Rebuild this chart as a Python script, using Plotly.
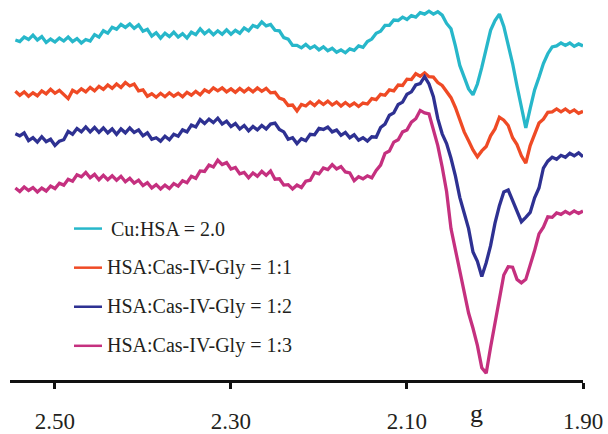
import plotly.graph_objects as go

# Field sweep expressed as g-factor (high g on the left)
G_VALUES = [
    2.545, 2.540, 2.535, 2.530, 2.525, 2.520, 2.515, 2.510, 2.505, 2.500,
    2.495, 2.490, 2.485, 2.480, 2.475, 2.470, 2.465, 2.460, 2.455, 2.450,
    2.445, 2.440, 2.435, 2.430, 2.425, 2.420, 2.415, 2.410, 2.405, 2.400,
    2.395, 2.390, 2.385, 2.380, 2.375, 2.370, 2.365, 2.360, 2.355, 2.350,
    2.345, 2.340, 2.335, 2.330, 2.325, 2.320, 2.315, 2.310, 2.305, 2.300,
    2.295, 2.290, 2.285, 2.280, 2.275, 2.270, 2.265, 2.260, 2.255, 2.250,
    2.245, 2.240, 2.235, 2.230, 2.225, 2.220, 2.215, 2.210, 2.205, 2.200,
    2.195, 2.190, 2.185, 2.180, 2.175, 2.170, 2.165, 2.160, 2.155, 2.150,
    2.145, 2.140, 2.135, 2.130, 2.125, 2.120, 2.115, 2.110, 2.105, 2.100,
    2.095, 2.090, 2.085, 2.080, 2.075, 2.070, 2.065, 2.060, 2.055, 2.050,
    2.045, 2.040, 2.035, 2.030, 2.025, 2.020, 2.015, 2.010, 2.005, 2.000,
    1.995, 1.990, 1.985, 1.980, 1.975, 1.970, 1.965, 1.960, 1.955, 1.950,
    1.945, 1.940, 1.935, 1.930, 1.925, 1.920, 1.915, 1.910, 1.905, 1.900,
]

# EPR signal (a.u.) of each sample
CU_HSA = [
    1, -0.5, 4, 1.5, 6, 1, 4.5, -1.5, 2, -1,
    3, 0, 4, -0.5, 2.5, -2, 1.5, 0, 6.5, 4,
    10.5, 8, 14, 12, 17, 14, 17.5, 13, 16.5, 10,
    12, 5, 8.5, 3, 8, 4.5, 9, 4, 7.5, 3,
    9, 6.5, 12.5, 7.5, 11, 6.5, 10.5, 7, 11.5, 7,
    11, 8, 13.5, 10.5, 16, 14, 19.5, 15.5, 17, 11,
    10.5, 3.5, 2, -4.5, -4.5, -7, -3.5, -7.5, -5, -9,
    -6, -10, -7.5, -11.5, -9, -12, -8, -9.5, -5, -6.5,
    -0.5, 2, 8, 10, 16, 16, 21.5, 21, 24.5, 22,
    26, 24.5, 29, 27.5, 30.5, 27.5, 30, 26.5, 18, 12.5,
    -5, -25, -37, -49, -55, -44, -27, -9, 11, 21,
    27.5, 15, -4, -23, -46, -69, -89, -69, -50, -37,
    -23, -13, -6, -5, -2, -4.5, -2, -5.5, -3, -5,
]

RATIO_1_1 = [
    1.5, -2.5, 1, -3.5, 0, -3, 2, -1, 3.5, -0.5,
    2.5, -1.5, -6, 2.5, 0, 4, 1, 5.5, 2, 6.5,
    3.5, 8, 4.5, 9, 5.5, 10.5, 7, 9, 2, 3,
    -3.5, -1, -4.5, -0.5, -4, 0, -3.5, -0.5, -4, 0.5,
    -2.5, 1.5, -2, 3, 0.5, 5, 2, 5, 1, 4,
    0.5, 4.5, 1, 4.5, 1, 5, 1.5, 4.5, 0, 0.5,
    -5.5, -7, -13, -12.5, -18.5, -12, -13.5, -9.5, -13, -8.5,
    -12, -8.5, -12.5, -9.5, -13.5, -10, -13.5, -10.5, -14, -10.5,
    -11.5, -6, -7, -1.5, -2.5, 3, 2, 8, 7.5, 14,
    13.5, 19.5, 17, 20.5, 16.5, 16, 10.5, 7.5, 1.5, -5,
    -15, -28, -40, -49, -58.5, -65.5, -59.5, -55, -44, -37,
    -25, -28, -33.5, -46, -53, -64.5, -72, -54, -43, -31,
    -27, -20, -19.5, -16.5, -19.5, -16.5, -20, -17.5, -21, -19,
]

RATIO_1_2 = [
    3, 1, 4, -4, -1, -5.5, 0, -5, -2.5, -9,
    -4.5, -3, 5.5, 2.5, 8.5, 5, 10, 5, 9.5, 4.5,
    9, 4, 8, 2.5, 8, 4, 9, 4.5, 7, 1,
    4, -2.5, -1, -4.5, 0.5, -3, 2.5, 0.5, 7, 5,
    12, 10, 17.5, 13.5, 18, 14.5, 19, 13, 16, 10.5,
    13.5, 8, 11.5, 6, 10.5, 7, 11.5, 8, 13, 14,
    7.5, 5, -2.5, -1, -7, -2, -4, 2.5, 2, 8.5,
    7.5, 10, 5, 7, 1.5, 4.5, -1, 2, -3.5, -1,
    -4.5, 0, -0.5, 9.5, 13, 22, 24.5, 33, 35.5, 43.5,
    46, 53, 54.5, 61.5, 54, 41, 18.5, 3, -7, -22,
    -40, -62, -78, -94, -118, -127.5, -143, -129, -111.5, -88.5,
    -70.5, -56.5, -54.5, -66, -76, -87, -82.5, -77.5, -62.5, -52.5,
    -32, -25, -21, -23, -19, -21, -17, -19.5, -16.5, -20.5,
]

RATIO_1_3 = [
    -0.5, -4, 0.5, -3, 0, -4.5, -0.5, -3.5, 1.5, -1,
    4.5, 2.5, 8.5, 6.5, 13, 11, 15.5, 10, 13.5, 8,
    12.5, 8, 12, 7.5, 11.5, 6, 9.5, 4.5, 7.5, 2,
    5, -0.5, 3, -1.5, 2.5, -1, 4, 1.5, 7, 5,
    11.5, 9.5, 17, 16.5, 23, 21, 28, 23.5, 25.5, 19,
    20.5, 14, 15.5, 10, 15, 11.5, 16.5, 12.5, 17, 8.5,
    9, 2.5, 3, -1.5, 2.5, 0, 6.5, 7.5, 15.5, 14,
    20, 18.5, 23.5, 19, 21.5, 16, 15, 7, 11, 9,
    12, 10, 17.5, 23, 35, 37.5, 46.5, 49, 57, 59,
    67, 70.5, 79, 76.5, 75.5, 59.5, 43, 21, -4, -42,
    -63, -85, -105, -128.5, -144, -161.5, -184.5, -190, -163.5, -137.5,
    -114.5, -89.5, -81, -81.5, -94, -97.5, -94, -80, -64.5, -47.5,
    -40.5, -30, -30.5, -26, -27.5, -24.5, -27, -24, -26.5, -24,
]

SERIES_NAMES = [
    "Cu:HSA = 2.0",
    "HSA:Cas-IV-Gly = 1:1",
    "HSA:Cas-IV-Gly = 1:2",
    "HSA:Cas-IV-Gly = 1:3",
]
TICK_VALUES = [2.50, 2.30, 2.10, 1.90]
TICK_LABELS = ["2.50", "2.30", "2.10", "1.90"]

# presentation settings
COLORS = ["#27b7ca", "#ef4a25", "#2e3192", "#c5307f"]
STACK_OFFSETS = [347, 294, 249, 197]   # vertical stacking of the spectra
TEXT_COLOR = "#231f20"
SERIF = "Liberation Serif, Times New Roman, serif"

fig = go.Figure()
for name, values, color, offset in zip(
        SERIES_NAMES, [CU_HSA, RATIO_1_1, RATIO_1_2, RATIO_1_3], COLORS, STACK_OFFSETS):
    fig.add_trace(go.Scatter(
        x=G_VALUES,
        y=[v + offset for v in values],
        mode="lines",
        name=name,
        line=dict(color=color, width=3.3),
        showlegend=False,
        hoverinfo="skip",
    ))

# hand-placed legend at the lower left
LEGEND_ROWS_Y = [0.3985, 0.2956, 0.1928, 0.0900]
for name, color, ly in zip(SERIES_NAMES, COLORS, LEGEND_ROWS_Y):
    fig.add_shape(type="line", xref="paper", yref="paper",
                  x0=0.1117, x1=0.1606, y0=ly, y1=ly,
                  line=dict(color=color, width=2.5))
    fig.add_annotation(xref="paper", yref="paper",
                       x=0.1728 if name.startswith("Cu") else 0.1658, y=ly,
                       xanchor="left", yanchor="middle", showarrow=False,
                       text=name, font=dict(family=SERIF, size=20, color=TEXT_COLOR))

# axis title "g" sits between the tick labels
fig.add_annotation(xref="x", yref="paper", x=2.0205, y=0,
                   xanchor="center", yanchor="top", yshift=-17, showarrow=False,
                   text="g", font=dict(family=SERIF, size=26, color=TEXT_COLOR))

fig.update_layout(
    width=608, height=434,
    margin=dict(l=10, r=25, t=0, b=45),
    paper_bgcolor="white", plot_bgcolor="white",
    xaxis=dict(
        range=[2.5511, 1.90],
        showgrid=False, zeroline=False,
        showline=True, linecolor="#111111", linewidth=3,
        ticks="outside", ticklen=6, tickwidth=2.5, tickcolor="#111111",
        tickvals=TICK_VALUES, ticktext=TICK_LABELS,
        ticklabelstandoff=12,
        tickfont=dict(family=SERIF, size=23, color=TEXT_COLOR),
    ),
    yaxis=dict(range=[0, 389], visible=False),
)

fig.write_html("out.html")
